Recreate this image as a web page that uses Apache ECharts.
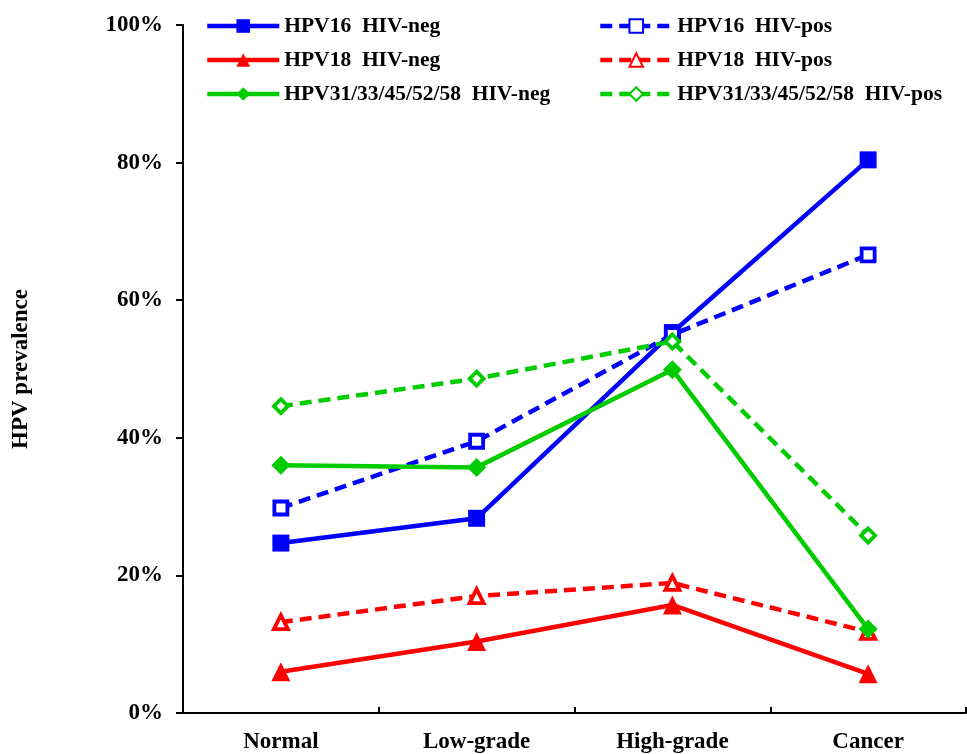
<!DOCTYPE html>
<html><head><meta charset="utf-8">
<script src="https://cdn.jsdelivr.net/npm/echarts@6/dist/echarts.min.js"></script>
<style>html,body{margin:0;padding:0;background:#fff}#c{width:967px;height:754px}</style>
</head><body><div id="c"></div>
<script>
var categories = ['Normal', 'Low-grade', 'High-grade', 'Cancer'];
var yTicks = [0, 20, 40, 60, 80, 100];
var hpv16Neg = [24.7, 28.3, 55.3, 80.4];
var hpv16Pos = [29.8, 39.5, 55.0, 66.6];
var hpv18Neg = [6.0, 10.4, 15.7, 5.7];
var hpv18Pos = [13.2, 17.0, 18.9, 11.8];
var hpvOthNeg = [36.0, 35.7, 49.9, 12.2];
var hpvOthPos = [44.6, 48.6, 54.0, 25.8];
var names = ['HPV16  HIV-neg', 'HPV16  HIV-pos', 'HPV18  HIV-neg', 'HPV18  HIV-pos',
  'HPV31/33/45/52/58  HIV-neg', 'HPV31/33/45/52/58  HIV-pos'];

var FONT = '"Liberation Serif", "Times New Roman", serif';
var BLUE = '#0000ff', RED = '#ff0000', GREEN = '#00cc00';

function mk(name, data, color, symbol, size, hollow) {
  return {
    name: name, type: 'line', data: data, symbol: symbol, symbolSize: size,
    lineStyle: { color: color, width: 4.5, type: hollow ? [12, 7] : 'solid' },
    itemStyle: hollow ? { color: '#ffffff', borderColor: color, borderWidth: 3.8 }
                      : { color: color, borderColor: color, borderWidth: 0 },
    emphasis: { disabled: true }, animation: false
  };
}

var chart = echarts.init(document.getElementById('c'), null, { renderer: 'canvas' });
var legendBase = {
  orient: 'vertical', top: 10, itemWidth: 72, itemHeight: 17, itemGap: 12,
  textStyle: { fontFamily: FONT, fontWeight: 'bold', fontSize: 21.5, color: '#000' },
  lineStyle: { width: 4.5 },
  selectedMode: false
};
chart.setOption({
  backgroundColor: '#fff',
  animation: false,
  grid: { left: 183, right: 1, top: 25, bottom: 40, containLabel: false },
  legend: [
    Object.assign({}, legendBase, { left: 200, data: [names[0], names[2], names[4]] }),
    Object.assign({}, legendBase, { left: 593, data: [names[1], names[3], names[5]] })
  ],
  xAxis: [{
    type: 'category', data: categories, boundaryGap: true,
    axisLine: { lineStyle: { color: '#000', width: 2 } },
    axisTick: { alignWithLabel: true, inside: false, length: 6, lineStyle: { color: '#000', width: 2 } },
    axisLabel: { fontFamily: FONT, fontWeight: 'bold', fontSize: 23, color: '#000', margin: 18 },
    splitLine: { show: false }
  }, {
    type: 'category', data: categories, boundaryGap: true, position: 'bottom',
    axisLine: { show: false },
    axisTick: { show: true, inside: true, length: 6, lineStyle: { color: '#000', width: 2 } },
    axisLabel: { show: false }, splitLine: { show: false }
  }],
  yAxis: {
    type: 'value', min: yTicks[0], max: yTicks[yTicks.length - 1], interval: 20,
    name: 'HPV prevalence', nameLocation: 'middle', nameGap: 150, nameRotate: 90,
    nameTextStyle: { fontFamily: FONT, fontWeight: 'bold', fontSize: 23, color: '#000' },
    axisLine: { show: true, lineStyle: { color: '#000', width: 2 } },
    axisTick: { show: true, length: 7, lineStyle: { color: '#000', width: 2 } },
    axisLabel: { formatter: '{value}%', fontFamily: FONT, fontWeight: 'bold', fontSize: 23, color: '#000', margin: 20 },
    splitLine: { show: false }
  },
  series: [
    mk(names[0], hpv16Neg, BLUE, 'rect', 17, false),
    mk(names[1], hpv16Pos, BLUE, 'rect', 13, true),
    mk(names[2], hpv18Neg, RED, 'triangle', 19, false),
    mk(names[3], hpv18Pos, RED, 'triangle', 14, true),
    mk(names[4], hpvOthNeg, GREEN, 'diamond', 19, false),
    mk(names[5], hpvOthPos, GREEN, 'diamond', 14, true)
  ]
});
</script></body></html>
